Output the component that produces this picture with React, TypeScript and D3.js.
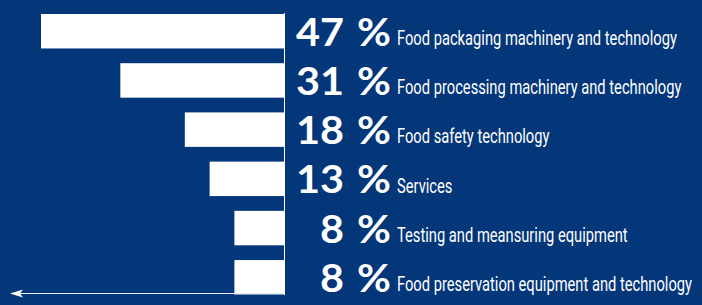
import React, { useEffect, useRef } from "react";
import * as d3 from "d3";

// shares of exhibitors by sector (percent)
const categories = [
  "Food packaging machinery and technology",
  "Food processing machinery and technology",
  "Food safety technology",
  "Services",
  "Testing and meansuring equipment",
  "Food preservation equipment and technology",
];
const shares = [47, 31, 18, 13, 8, 8];

const W = 702;
const H = 305;
const BG = "#04367a";

const App = () => {
  const svgRef = useRef<SVGSVGElement>(null);

  useEffect(() => {
    const svg = d3.select(svgRef.current);
    svg.selectAll("*").remove();

    const axisX = 284;
    const x = d3.scaleLinear().domain([-2, 47]).range([axisX, 41]);
    const y = d3
      .scaleBand<string>()
      .domain(categories)
      .range([14, 294.5])
      .paddingInner(0.3)
      .paddingOuter(0);

    svg.append("rect").attr("width", W).attr("height", H).attr("fill", BG);

    const rows = svg
      .selectAll(".row")
      .data(categories)
      .enter()
      .append("g")
      .attr("class", "row");

    rows
      .append("rect")
      .attr("x", (d, i) => x(shares[i]))
      .attr("y", (d) => y(d)!)
      .attr("width", (d, i) => axisX - x(shares[i]))
      .attr("height", y.bandwidth())
      .attr("fill", "#ffffff");

    // vertical axis line
    svg
      .append("line")
      .attr("x1", axisX + 0.5)
      .attr("x2", axisX + 0.5)
      .attr("y1", 13)
      .attr("y2", 295)
      .attr("stroke", "#ffffff")
      .attr("stroke-width", 1);

    // arrow along the bottom, pointing left
    const ay = 293.5;
    svg
      .append("line")
      .attr("x1", axisX)
      .attr("x2", 16)
      .attr("y1", ay)
      .attr("y2", ay)
      .attr("stroke", "#e8eef8")
      .attr("stroke-width", 1);
    svg
      .append("path")
      .attr("d", `M10,${ay} L23,${ay - 4} L20,${ay} L23,${ay + 4} Z`)
      .attr("fill", "#ffffff");

    const mid = (d: string) => y(d)! + y.bandwidth() / 2;

    rows
      .append("g")
      .attr("transform", (d) => `translate(344,${mid(d) + 14.5}) scale(1.09,1)`)
      .append("text")
      .text((d, i) => String(shares[i]))
      .attr("text-anchor", "end")
      .attr("font-family", "Lato, sans-serif")
      .attr("font-weight", 700)
      .attr("font-size", 38)
      .attr("fill", "#ffffff");

    rows
      .append("g")
      .attr("transform", (d) => `translate(357,${mid(d) + 14.5}) scale(1.09,1)`)
      .append("text")
      .text("%")
      .attr("font-family", "Lato, sans-serif")
      .attr("font-weight", 700)
      .attr("font-size", 38)
      .attr("fill", "#ffffff");

    rows
      .append("g")
      .attr("transform", (d) => `translate(397,${mid(d) + 13.8}) scale(0.735,1)`)
      .append("text")
      .text((d) => d)
      .attr("font-family", "Roboto, sans-serif")
      .attr("font-size", 20)
      .attr("fill", "#ffffff");
  }, []);

  return (
    <div>
      <svg
        ref={svgRef}
        width={W}
        height={H}
        style={{ display: "block", position: "absolute", left: 0, top: 0 }}
      ></svg>
    </div>
  );
};

export default App;
